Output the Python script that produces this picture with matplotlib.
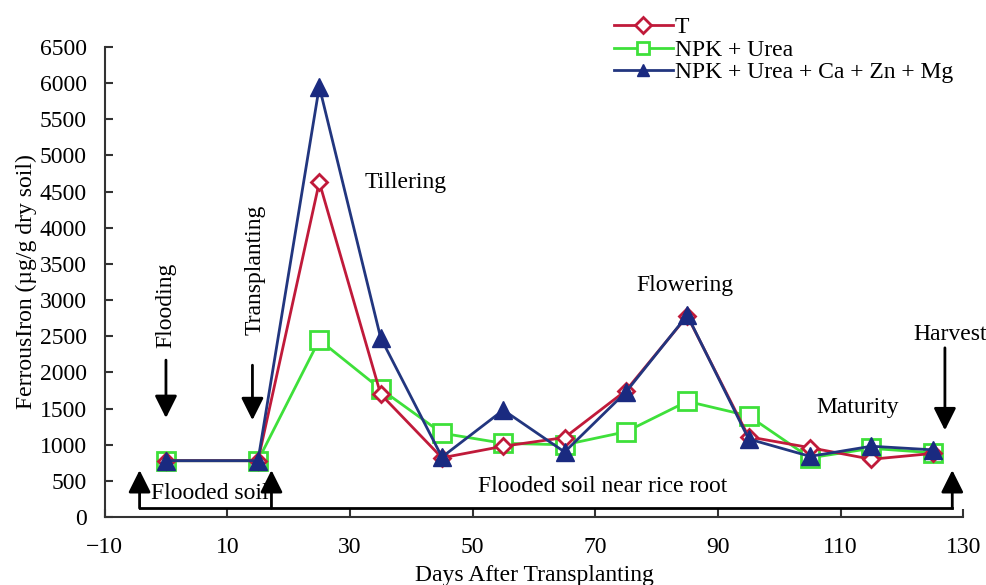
import matplotlib
matplotlib.use("Agg")
import matplotlib.pyplot as plt

plt.rcParams['font.family'] = ['Liberation Serif', 'DejaVu Serif']

days = [0, 15, 25, 35, 45, 55, 65, 75, 85, 95, 105, 115, 125]
t_vals = [780, 780, 4630, 1700, 820, 980, 1100, 1750, 2780, 1110, 960, 800, 880]
npk_vals = [780, 780, 2450, 1770, 1160, 1020, 1000, 1180, 1600, 1400, 820, 950, 890]
full_vals = [780, 780, 5950, 2480, 830, 1480, 900, 1730, 2790, 1080, 840, 980, 930]

series_names = ['T', 'NPK + Urea', 'NPK + Urea + Ca + Zn + Mg']
yticks = list(range(0, 6501, 500))
xticks = [-10, 10, 30, 50, 70, 90, 110, 130]

fig = plt.figure(figsize=(9.87, 5.85), dpi=100)
ax = fig.add_axes([0.106, 0.116, 0.87, 0.804])

ax.plot(days, t_vals, '-', color='#c01a3a', lw=2, marker='D', ms=8,
        mfc='white', mec='#c01a3a', mew=2, label=series_names[0], zorder=3)
ax.plot(days, npk_vals, '-', color='#3ee03a', lw=2, marker='s', ms=13,
        mfc='white', mec='#3ee03a', mew=2, label=series_names[1], zorder=2)
ax.plot(days, full_vals, '-', color='#22367f', lw=2, marker='^', ms=13,
        mfc='#1a2a80', mec='#1a2a80', label=series_names[2], zorder=4)

ax.set_xlim(-10, 130)
ax.set_ylim(0, 6500)
ax.set_xticks(xticks)
ax.set_yticks(yticks)
ax.set_xticklabels(['\u221210'] + [str(v) for v in xticks[1:]])
ax.tick_params(direction='in', length=6, width=1.5, labelsize=17, colors='#333333', labelcolor='black')
ax.tick_params(axis='x', pad=14)
ax.tick_params(axis='y', pad=13)
for s in ['top', 'right']:
    ax.spines[s].set_visible(False)
for s in ['left', 'bottom']:
    ax.spines[s].set_linewidth(1.5)
    ax.spines[s].set_color('#333333')

ax.set_xlabel('Days After Transplanting', fontsize=17, labelpad=5)
ax.set_ylabel('FerrousIron (\u00b5g/g dry soil)', fontsize=17, labelpad=2)

arrow = dict(arrowstyle='-|>', mutation_scale=34, lw=2, color='black', shrinkA=0, shrinkB=0)

# stage labels and arrows
ax.text(0, 2930, 'Flooding', rotation=90, ha='center', va='center', fontsize=17)
ax.annotate('', xy=(0, 1370), xytext=(0, 2170), arrowprops=arrow)
ax.text(14.5, 3420, 'Transplanting', rotation=90, ha='center', va='center', fontsize=17)
ax.annotate('', xy=(14.1, 1340), xytext=(14.1, 2100), arrowprops=arrow)
ax.text(39.1, 4620, 'Tillering', ha='center', va='center', fontsize=17)
ax.text(84.6, 3195, 'Flowering', ha='center', va='center', fontsize=17)
ax.text(112.8, 1510, 'Maturity', ha='center', va='center', fontsize=17)
ax.text(127.8, 2530, 'Harvest', ha='center', va='center', fontsize=17)
ax.annotate('', xy=(127.0, 1200), xytext=(127.0, 2340), arrowprops=arrow, annotation_clip=False)

# flooded soil bracket
ax.plot([-4.3, 128.2], [124, 124], color='black', lw=2, clip_on=False)
for bx in [-4.3, 17.2, 128.2]:
    ax.annotate('', xy=(bx, 650), xytext=(bx, 124), arrowprops=arrow, annotation_clip=False)
ax.text(7.1, 330, 'Flooded soil', ha='center', va='center', fontsize=17)
ax.text(71.2, 430, 'Flooded soil near rice root', ha='center', va='center', fontsize=17)

leg = fig.legend(loc='upper left', bbox_to_anchor=(0.605, 1.0), frameon=False,
                 fontsize=17, handlelength=2.5, handletextpad=0.1, labelspacing=0.05,
                 borderaxespad=0.3)
for h in leg.legend_handles:
    h.set_markersize(8)

fig.savefig('out.png', dpi=100)
